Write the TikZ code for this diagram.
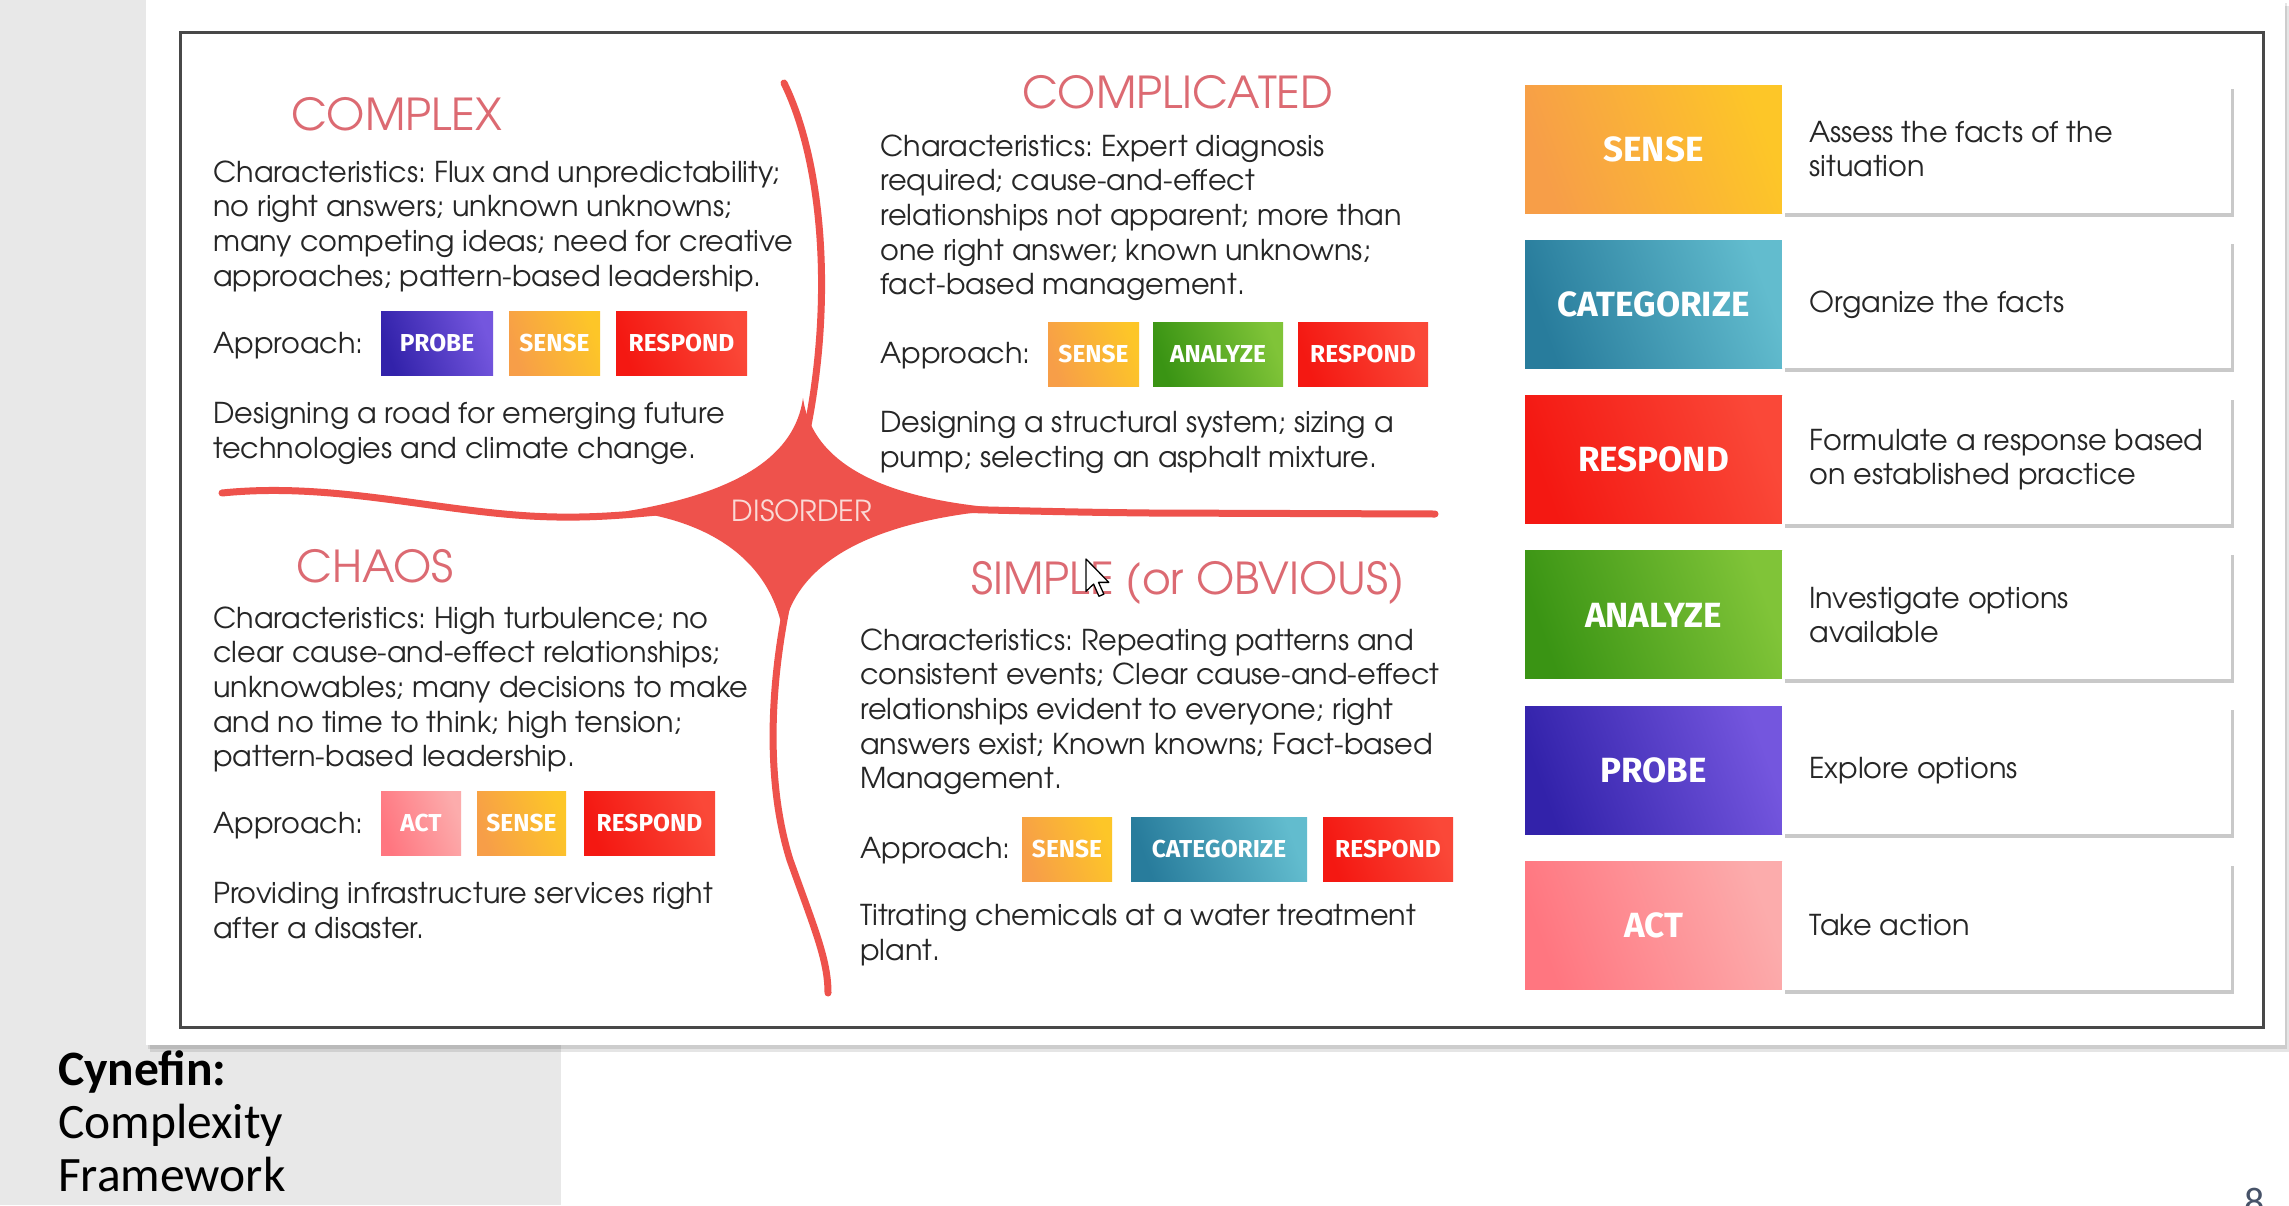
\documentclass[tikz,border=0pt]{standalone}
\usepackage{fontspec}
\setmainfont{texgyreadventor}[Extension=.otf, UprightFont=*-regular, BoldFont=*-bold, ItalicFont=*-italic, BoldItalicFont=*-bolditalic]
\newfontfamily\badgefont{Fira Sans}
\newfontfamily\capfont{Carlito}
\usetikzlibrary{shadows}
\frenchspacing

\definecolor{pagegray}{RGB}{232,232,232}
\definecolor{framegray}{RGB}{72,72,72}
\definecolor{bodyink}{RGB}{38,38,38}
\definecolor{headred}{RGB}{220,106,114}
\definecolor{crossred}{RGB}{238,82,76}
\definecolor{disorderpink}{RGB}{250,218,214}
\definecolor{senseA}{RGB}{247,158,72}
\definecolor{senseB}{RGB}{253,198,40}
\definecolor{catA}{RGB}{40,124,156}
\definecolor{catB}{RGB}{98,188,206}
\definecolor{respA}{RGB}{244,24,18}
\definecolor{respB}{RGB}{250,72,56}
\definecolor{anaA}{RGB}{58,148,20}
\definecolor{anaB}{RGB}{128,196,56}
\definecolor{probeA}{RGB}{50,34,170}
\definecolor{probeB}{RGB}{116,86,222}
\definecolor{actA}{RGB}{255,118,128}
\definecolor{actB}{RGB}{252,172,172}
\definecolor{numink}{RGB}{70,82,104}

\tikzset{
  body/.style={font=\fontsize{28.7}{34.6}\selectfont, text=bodyink, align=left, inner sep=0pt, anchor=north west},
  label/.style={font=\fontsize{28.7}{34.6}\selectfont, text=bodyink, inner sep=0pt, anchor=west},
  head/.style={font=\fontsize{44}{50}\selectfont, text=headred, inner sep=0pt, text height=32pt, text depth=0pt},
  chip/.style={minimum height=64pt, inner sep=0pt, text=white, font=\badgefont\bfseries\fontsize{24.5}{26}\selectfont},
  tile/.style={minimum width=257pt, minimum height=128pt, inner sep=0pt, text=white, font=\badgefont\bfseries\fontsize{35}{38}\selectfont},
  descbox/.style={anchor=west, fill=white, minimum width=449pt, minimum height=128pt, inner sep=0pt,
    drop shadow={shadow xshift=3pt, shadow yshift=-4pt, opacity=0.35, fill=black!60}},
  desctext/.style={anchor=west, inner sep=0pt, align=left, font=\fontsize{28.7}{34.6}\selectfont, text=bodyink},
  sensefill/.style={left color=senseA, right color=senseB, shading angle=110},
  catfill/.style={left color=catA, right color=catB, shading angle=110},
  respfill/.style={left color=respA, right color=respB, shading angle=110},
  anafill/.style={left color=anaA, right color=anaB, shading angle=110},
  probefill/.style={left color=probeA, right color=probeB, shading angle=110},
  actfill/.style={left color=actA, right color=actB, shading angle=110},
  crossline/.style={draw=crossred, line width=7pt, line cap=round},
  caption/.style={font=\capfont\fontsize{49.5}{53}\selectfont, text=black, inner sep=0pt, anchor=base west}
}

\begin{document}
\begin{tikzpicture}[x=1pt,y=-1pt]
\useasboundingbox (0,0) rectangle (2289,1205);

% page background and slide
\fill[white] (0,0) rectangle (2289,1205);
\fill[pagegray] (0,0) rectangle (146,1045);
\fill[pagegray] (0,1045) rectangle (561,1205);
\fill[black, opacity=0.10] (150,6) rectangle (2289,1052);
\fill[black, opacity=0.10] (148,3) rectangle (2287,1049);
\fill[white] (146,0) rectangle (2285,1045);
\draw[framegray, line width=3pt] (180,32) rectangle (2263,1027);

% Cynefin cross with the disorder centre
\draw[crossline] (784,83) .. controls (822,160) and (835,300) .. (805,440);
\draw[crossline] (790,590) .. controls (770,680) and (765,780) .. (790,860) .. controls (815,930) and (828,960) .. (828,993);
\draw[crossline] (222,493) .. controls (330,482) and (430,510) .. (530,516) .. controls (600,520) and (650,512) .. (700,508);
\draw[crossline] (900,508) .. controls (1000,510) and (1050,512) .. (1150,513) -- (1435,514);
\fill[crossred] (803,398) .. controls (812,462) and (880,500) .. (1010,509)
  .. controls (880,519) and (796,558) .. (783,632)
  .. controls (770,560) and (710,521) .. (628,511)
  .. controls (740,492) and (795,455) .. (803,398) -- cycle;
\node[font=\fontsize{29}{29}\selectfont, text=disorderpink, inner sep=0pt] (disorder) at (802,511) {DISORDER};

% COMPLEX
\node[head] (complexhead) at (397,114) {COMPLEX};
\node[body] (complexbody) at (213,160.5) {Characteristics: Flux and unpredictability;\\ no right answers; unknown unknowns;\\ many competing ideas; need for creative\\ approaches; pattern-based leadership.};
\node[label] (complexappr) at (213,346) {Approach:};
\node[chip, probefill, minimum width=112pt] (cxprobe) at (437,343) {PROBE};
\node[chip, sensefill, minimum width=91pt] (cxsense) at (554.5,343) {SENSE};
\node[chip, respfill, minimum width=131pt] (cxrespond) at (681.5,343) {RESPOND};
\node[body] (complexex) at (213,402.5) {Designing a road for emerging future\\ technologies and climate change.};

% COMPLICATED
\node[head] (complhead) at (1178,92) {COMPLICATED};
\node[body] (complbody) at (880,134.5) {Characteristics: Expert diagnosis\\ required; cause-and-effect\\ relationships not apparent; more than\\ one right answer; known unknowns;\\ fact-based management.};
\node[label] (complappr) at (880,356) {Approach:};
\node[chip, sensefill, minimum width=91pt] (clsense) at (1093.5,354) {SENSE};
\node[chip, anafill, minimum width=130pt] (clanalyze) at (1218,354) {ANALYZE};
\node[chip, respfill, minimum width=130pt] (clrespond) at (1363,354) {RESPOND};
\node[body] (complex2) at (880,411.5) {Designing a structural system; sizing a\\ pump; selecting an asphalt mixture.};

% CHAOS
\node[head] (chaoshead) at (375,566) {CHAOS};
\node[body] (chaosbody) at (213,606.5) {Characteristics: High turbulence; no\\ clear cause-and-effect relationships;\\ unknowables; many decisions to make\\ and no time to think; high tension;\\ pattern-based leadership.};
\node[label] (chaosappr) at (213,826) {Approach:};
\node[chip, actfill, minimum width=80pt] (chact) at (421,823) {ACT};
\node[chip, sensefill, minimum width=89pt] (chsense) at (521.5,823) {SENSE};
\node[chip, respfill, minimum width=131pt] (chrespond) at (649.5,823) {RESPOND};
\node[body] (chaosex) at (213,882.5) {Providing infrastructure services right\\ after a disaster.};

% SIMPLE
\node[head] (simplehead) at (1188,578) {SIMPLE (or OBVIOUS)};
\node[body] (simplebody) at (860,628.5) {Characteristics: Repeating patterns and\\ consistent events; Clear cause-and-effect\\ relationships evident to everyone; right\\ answers exist; Known knowns; Fact-based\\ Management.};
\node[label] (simpleappr) at (860,851) {Approach:};
\node[chip, sensefill, minimum width=90pt] (smsense) at (1067,849) {SENSE};
\node[chip, catfill, minimum width=176pt] (smcat) at (1219,849) {CATEGORIZE};
\node[chip, respfill, minimum width=130pt] (smrespond) at (1388,849) {RESPOND};
\node[body] (simpleex) at (860,904.5) {Titrating chemicals at a water treatment\\ plant.};

% mouse pointer over the heading
\draw[black, line width=1.3pt, fill=white, line join=round, shift={(1086,559)}, scale=1.9]
  (0,0) -- (0,17) -- (4,13.2) -- (6.8,19.6) -- (9.4,18.5) -- (6.6,12.3) -- (12,12.3) -- cycle;

% legend of actions
\node[tile, sensefill] (tsense) at (1653.5,149) {SENSE};
\node[descbox] (dsense) at (tsense.east) {};
\node[desctext] (dsensetext) at ([xshift=27pt]dsense.west) {Assess the facts of the\\ situation};
\node[tile, catfill] (tcat) at (1653.5,304.3) {CATEGORIZE};
\node[descbox] (dcat) at (tcat.east) {};
\node[desctext] (dcattext) at ([xshift=27pt]dcat.west) {Organize the facts};
\node[tile, respfill] (tresp) at (1653.5,459.6) {RESPOND};
\node[descbox] (dresp) at (tresp.east) {};
\node[desctext] (dresptext) at ([xshift=27pt]dresp.west) {Formulate a response based\\ on established practice};
\node[tile, anafill] (tana) at (1653.5,614.9) {ANALYZE};
\node[descbox] (dana) at (tana.east) {};
\node[desctext] (danatext) at ([xshift=27pt]dana.west) {Investigate options\\ available};
\node[tile, probefill] (tprobe) at (1653.5,770.2) {PROBE};
\node[descbox] (dprobe) at (tprobe.east) {};
\node[desctext] (dprobetext) at ([xshift=27pt]dprobe.west) {Explore options};
\node[tile, actfill] (tact) at (1653.5,925.5) {ACT};
\node[descbox] (dact) at (tact.east) {};
\node[desctext] (dacttext) at ([xshift=27pt]dact.west) {Take action};

% slide caption and page number
\node[caption] (cap1) at (58,1085) {\bfseries Cynefin:};
\node[caption] (cap2) at (58,1138) {Complexity};
\node[caption] (cap3) at (58,1191) {Framework};
\node[font=\capfont\fontsize{40}{40}\selectfont, text=numink, inner sep=0pt, anchor=north] (pagenum) at (2255,1188) {8};
\end{tikzpicture}
\end{document}
